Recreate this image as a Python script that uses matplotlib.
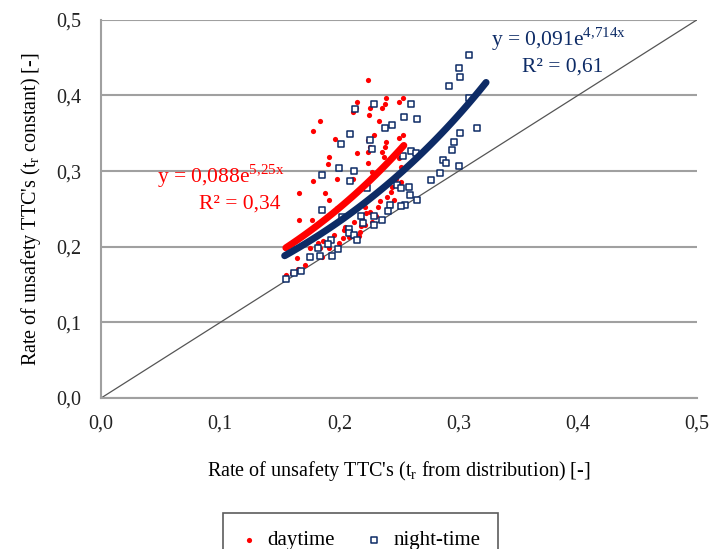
import matplotlib
matplotlib.use('Agg')
import matplotlib.pyplot as plt
import numpy as np

plt.rcParams['font.family'] = ['Liberation Serif', 'DejaVu Serif']
plt.rcParams['mathtext.fontset'] = 'custom'
plt.rcParams['mathtext.rm'] = 'Liberation Serif'

# daytime points (x = tr from distribution, y = tr constant)
day_x = [0.224, 0.184, 0.178, 0.215, 0.214, 0.226, 0.236, 0.239, 0.238, 0.250,
         0.253, 0.211, 0.225, 0.233, 0.229, 0.253, 0.250, 0.196, 0.224, 0.226,
         0.224, 0.239, 0.238, 0.236, 0.237, 0.215, 0.191, 0.224, 0.190, 0.250,
         0.252, 0.178, 0.198, 0.211, 0.227, 0.230, 0.247, 0.252, 0.166, 0.188,
         0.191, 0.198, 0.234, 0.232, 0.221, 0.222, 0.219, 0.221, 0.231, 0.227,
         0.177, 0.166, 0.204, 0.208, 0.203, 0.214, 0.186, 0.184, 0.217, 0.216,
         0.164, 0.165, 0.160, 0.155, 0.175, 0.191, 0.185, 0.243, 0.246, 0.205,
         0.212, 0.195, 0.182, 0.240, 0.244, 0.226, 0.218, 0.171, 0.200]
day_y = [0.420, 0.366, 0.353, 0.391, 0.384, 0.384, 0.383, 0.396, 0.389, 0.391,
         0.396, 0.378, 0.374, 0.366, 0.348, 0.348, 0.344, 0.342, 0.341, 0.332,
         0.325, 0.339, 0.332, 0.325, 0.319, 0.324, 0.319, 0.311, 0.310, 0.317,
         0.306, 0.287, 0.290, 0.289, 0.299, 0.295, 0.290, 0.285, 0.271, 0.271,
         0.262, 0.251, 0.260, 0.253, 0.253, 0.244, 0.236, 0.229, 0.240, 0.233,
         0.235, 0.235, 0.222, 0.213, 0.211, 0.215, 0.208, 0.198, 0.220, 0.214,
         0.185, 0.170, 0.165, 0.163, 0.198, 0.198, 0.187, 0.272, 0.262, 0.226,
         0.233, 0.216, 0.205, 0.266, 0.279, 0.246, 0.228, 0.176, 0.205]

# night-time points
night_x = [0.309, 0.300, 0.301, 0.292, 0.309, 0.315, 0.301, 0.296, 0.294, 0.287,
           0.289, 0.300, 0.284, 0.277, 0.213, 0.229, 0.260, 0.254, 0.265, 0.244,
           0.238, 0.209, 0.201, 0.226, 0.227, 0.253, 0.260, 0.264, 0.200, 0.212,
           0.185, 0.209, 0.223, 0.248, 0.258, 0.252, 0.259, 0.265, 0.255, 0.252,
           0.242, 0.241, 0.185, 0.202, 0.218, 0.220, 0.229, 0.229, 0.236, 0.208,
           0.208, 0.212, 0.215, 0.193, 0.190, 0.182, 0.175, 0.199, 0.194, 0.184,
           0.155, 0.168, 0.162]
night_y = [0.454, 0.436, 0.425, 0.413, 0.397, 0.357, 0.350, 0.339, 0.328, 0.315,
           0.311, 0.307, 0.298, 0.288, 0.382, 0.388, 0.388, 0.372, 0.369, 0.361,
           0.357, 0.349, 0.336, 0.341, 0.329, 0.320, 0.327, 0.324, 0.304, 0.300,
           0.295, 0.287, 0.277, 0.281, 0.279, 0.277, 0.268, 0.262, 0.255, 0.254,
           0.255, 0.247, 0.249, 0.239, 0.241, 0.232, 0.240, 0.229, 0.235, 0.223,
           0.218, 0.215, 0.209, 0.209, 0.203, 0.198, 0.186, 0.197, 0.188, 0.188,
           0.157, 0.168, 0.165]

# exponential trendlines y = a*exp(b*x), drawn between x0 and x1
day_fit = (0.088, 5.25, 0.155, 0.254)
night_fit = (0.091, 4.714, 0.154, 0.323)

ticks = [0.0, 0.1, 0.2, 0.3, 0.4, 0.5]
tick_labels = ['0,0', '0,1', '0,2', '0,3', '0,4', '0,5']

red = '#FF0000'
navy = '#0D2B66'

fig = plt.figure(figsize=(7.12, 5.49), dpi=100)
ax = fig.add_axes([0.142, 0.275, 0.837, 0.689])

ax.set_xlim(0, 0.5)
ax.set_ylim(0, 0.5)
ax.set_xticks(ticks)
ax.set_yticks(ticks)
ax.set_xticklabels(tick_labels, fontsize=14.5)
ax.set_yticklabels(tick_labels, fontsize=14.5)
ax.tick_params(length=0, pad=12, colors='#222222')
ax.tick_params(axis='y', pad=14)
ax.yaxis.grid(True, color='#A0A0A0', lw=1.5)
ax.set_axisbelow(True)
for s in ['top', 'right']:
    ax.spines[s].set_visible(False)
for s in ['left', 'bottom']:
    ax.spines[s].set_color('#A0A0A0')
    ax.spines[s].set_linewidth(1.5)

# y = x reference line
ax.plot([0, 0.5], [0, 0.5], color='#555555', lw=0.9, zorder=2)

ax.scatter(day_x, day_y, s=14, marker='o', color=red, linewidths=0,
           label='daytime', zorder=3)
ax.scatter(night_x, night_y, s=13, marker='s', facecolors='white',
           edgecolors=navy, linewidths=1.1, label='night-time', zorder=3)

for (a, b, x0, x1), c in [(day_fit, red), (night_fit, navy)]:
    xs = np.linspace(x0, x1, 100)
    ax.plot(xs, a * np.exp(b * xs), color=c, lw=5, solid_capstyle='round', zorder=4)

ax.text(0.100, 0.293, r'y = 0,088e$^{\mathregular{5{,}25x}}$', color=red, fontsize=15.5,
        ha='center', va='center')
ax.text(0.116, 0.256, 'R² = 0,34', color=red, fontsize=15.5, ha='center', va='center')
ax.text(0.384, 0.474, r'y = 0,091e$^{\mathregular{4{,}714x}}$', color=navy, fontsize=15.5,
        ha='center', va='center')
ax.text(0.387, 0.437, 'R² = 0,61', color=navy, fontsize=15.5, ha='center', va='center')

ax.set_xlabel("Rate of unsafety TTC's (t$_\\mathregular{r}$ from distribution) [-]",
              fontsize=14.5, labelpad=18)
ax.set_ylabel("Rate of unsafety TTC's (t$_\\mathregular{r}$ constant) [-]",
              fontsize=14.5, labelpad=10)

leg = fig.legend(loc='upper center', bbox_to_anchor=(0.506, 0.066), ncol=2,
                 fontsize=15, frameon=True, fancybox=False, handlelength=0.8,
                 handletextpad=0.5, columnspacing=1.5, borderpad=0.85,
                 borderaxespad=0)
leg.get_frame().set_edgecolor('#333333')
leg.get_frame().set_linewidth(1.2)

fig.savefig('out.png', dpi=100)
